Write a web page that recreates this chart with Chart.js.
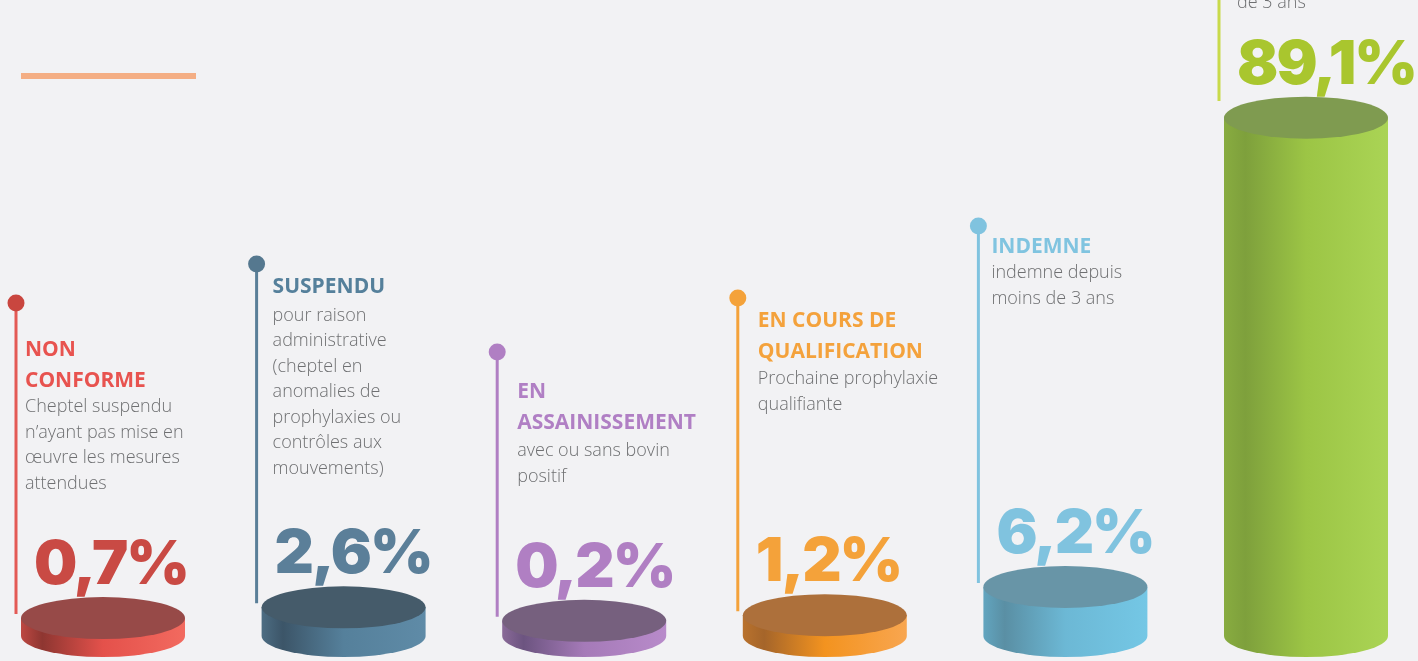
<!DOCTYPE html>
<html>
<head>
<meta charset="utf-8">
<script src="https://cdn.jsdelivr.net/npm/chart.js@4/dist/chart.umd.min.js"></script>
<style>
  html, body { margin: 0; padding: 0; background: #f2f2f4; }
  #wrap { width: 1418px; height: 661px; position: relative; overflow: hidden; }
</style>
</head>
<body>
<div id="wrap"><canvas id="c" width="1418" height="661"></canvas></div>
<script>
// ---------- DATA ----------
const categories = ['NON CONFORME', 'SUSPENDU', 'EN ASSAINISSEMENT', 'EN COURS DE QUALIFICATION', 'INDEMNE', 'INDEMNE depuis plus de 3 ans'];
const values = [0.7, 2.6, 0.2, 1.2, 6.2, 89.1];
const titleLines = [
  ['NON', 'CONFORME'],
  ['SUSPENDU'],
  ['EN', 'ASSAINISSEMENT'],
  ['EN COURS DE', 'QUALIFICATION'],
  ['INDEMNE'],
  []
];
const descLines = [
  ['Cheptel suspendu', 'n\u2019ayant pas mise en', '\u0153uvre les mesures', 'attendues'],
  ['pour raison', 'administrative', '(cheptel en', 'anomalies de', 'prophylaxies ou', 'contr\u00f4les aux', 'mouvements)'],
  ['avec ou sans bovin', 'positif'],
  ['Prochaine prophylaxie', 'qualifiante'],
  ['indemne depuis', 'moins de 3 ans'],
  ['de 3 ans']
];

// ---------- STYLE ----------
const topColors = ['#974a48', '#455b6a', '#76607e', '#ad703b', '#6895a7', '#7f9b50'];
const sideStops = [
  ['#bd4842', '#8e3631', '#e4514b', '#f26a5f'],
  ['#4d6d83', '#3c5568', '#55809b', '#5f8ba7'],
  ['#8a6a98', '#6c5480', '#a57ab8', '#b88bca'],
  ['#b9722d', '#a5652a', '#f3931f', '#f8a650'],
  ['#62a5bf', '#5a8fa4', '#6cb8d5', '#74c7e5'],
  ['#88ac40', '#7ea03c', '#9cc545', '#aad455']
];
const pctColors = ['#c94a44', '#5b7f99', '#b07fc3', '#f4a23a', '#80c3df', '#a9c62e'];
const titleColors = ['#e8534f', '#55809b', '#b07fc4', '#f4a23c', '#80c4e0', '#a9c62e'];
const lineColors = ['#e35a55', '#5a7f98', '#b07fc3', '#f4a23a', '#80c3df', '#c9da4a'];
const dotColors = ['#c9463f', '#55788f', '#b07fc3', '#f4a23a', '#80c3df', null];
// annotation layout (dot y, first title baseline, first description baseline, text offset from line)
const annot = [
  { dotY: 303, titleY: 356, descY: 412, dx: 9, lineEnd: null },
  { dotY: 264, titleY: 293, descY: 320.5, dx: 16, lineEnd: null },
  { dotY: 352, titleY: 398, descY: 456, dx: 20, lineEnd: null },
  { dotY: 298, titleY: 327, descY: 384, dx: 20, lineEnd: null },
  { dotY: 226, titleY: 253, descY: 278, dx: 13, lineEnd: null },
  { dotY: null, titleY: null, descY: 8, dx: 18, lineEnd: 101 }
];
const RY = 21;          // ellipse vertical radius
const THICK = 14;       // minimal disc thickness
const TITLE_LH = 31, DESC_LH = 25.5;
const TITLE_FONT = "700 21px 'Open Sans'";
const DESC_FONT = "300 18px 'Open Sans'";
const PCT_FONT = "900 61px 'Inter'";

function geom(bar) {
  const p = bar.getProps(['x', 'y', 'base', 'width'], true);
  const rx = p.width / 2;
  return { x: p.x, rx, left: p.x - rx, right: p.x + rx, top: p.y - THICK, bot: p.base };
}

const deco = {
  id: 'deco',
  beforeDatasetsDraw(chart) {
    const ctx = chart.ctx;
    ctx.save();
    // orange divider
    ctx.fillStyle = '#f4ae84';
    ctx.fillRect(21, 73, 175, 6);
    const meta = chart.getDatasetMeta(0);
    meta.data.forEach((bar, i) => {
      const g = geom(bar);
      const lx = g.left - 5;
      const a = annot[i];
      const y0 = a.dotY === null ? 0 : a.dotY;
      const y1 = a.lineEnd !== null ? a.lineEnd : g.top - 4;
      ctx.strokeStyle = lineColors[i];
      ctx.lineWidth = 3;
      ctx.beginPath();
      ctx.moveTo(lx, y0);
      ctx.lineTo(lx, y1);
      ctx.stroke();
      if (a.dotY !== null) {
        ctx.fillStyle = dotColors[i];
        ctx.beginPath();
        ctx.arc(lx, a.dotY, 8.5, 0, Math.PI * 2);
        ctx.fill();
      }
      ctx.textBaseline = 'alphabetic';
      ctx.textAlign = 'left';
      ctx.font = TITLE_FONT;
      ctx.fillStyle = titleColors[i];
      titleLines[i].forEach((t, k) => ctx.fillText(t, lx + a.dx, a.titleY + k * TITLE_LH));
      ctx.font = DESC_FONT;
      ctx.fillStyle = '#6f7072';
      descLines[i].forEach((t, k) => ctx.fillText(t, lx + a.dx, a.descY + k * DESC_LH));
    });
    ctx.restore();
  },
  afterDatasetsDraw(chart) {
    const ctx = chart.ctx;
    ctx.save();
    const meta = chart.getDatasetMeta(0);
    meta.data.forEach((bar, i) => {
      const g = geom(bar);
      const grad = ctx.createLinearGradient(g.left, 0, g.right, 0);
      const s = sideStops[i];
      grad.addColorStop(0, s[0]);
      grad.addColorStop(0.13, s[1]);
      grad.addColorStop(0.5, s[2]);
      grad.addColorStop(1, s[3]);
      ctx.fillStyle = grad;
      ctx.beginPath();
      ctx.moveTo(g.left, g.top);
      ctx.lineTo(g.left, g.bot);
      ctx.ellipse(g.x, g.bot, g.rx, RY, 0, Math.PI, 0, true);
      ctx.lineTo(g.right, g.top);
      ctx.closePath();
      ctx.fill();
      ctx.fillStyle = topColors[i];
      ctx.beginPath();
      ctx.ellipse(g.x, g.top, g.rx, RY, 0, 0, Math.PI * 2);
      ctx.fill();
      // percentage label
      ctx.font = PCT_FONT;
      ctx.letterSpacing = '-2px';
      ctx.fillStyle = pctColors[i];
      ctx.textAlign = 'left';
      ctx.textBaseline = 'alphabetic';
      const label = String(values[i]).replace('.', ',') + '%';
      ctx.fillText(label, g.left + 13, g.top - RY - 13);
      ctx.letterSpacing = '0px';
    });
    ctx.restore();
  }
};

new Chart(document.getElementById('c'), {
  type: 'bar',
  data: {
    labels: categories,
    datasets: [{
      data: values,
      backgroundColor: 'rgba(0,0,0,0)',
      borderWidth: 0,
      barThickness: 164,
      clip: false
    }]
  },
  options: {
    responsive: false,
    animation: false,
    devicePixelRatio: 1,
    layout: { padding: { left: 103, right: 112, top: 70, bottom: 25 } },
    plugins: { legend: { display: false }, tooltip: { enabled: false }, title: { display: false } },
    scales: {
      x: { type: 'category', offset: false, display: false, grid: { display: false } },
      y: { type: 'linear', min: 0, max: 100, display: false, grid: { display: false } }
    }
  },
  plugins: [deco]
});
</script>
</body>
</html>
